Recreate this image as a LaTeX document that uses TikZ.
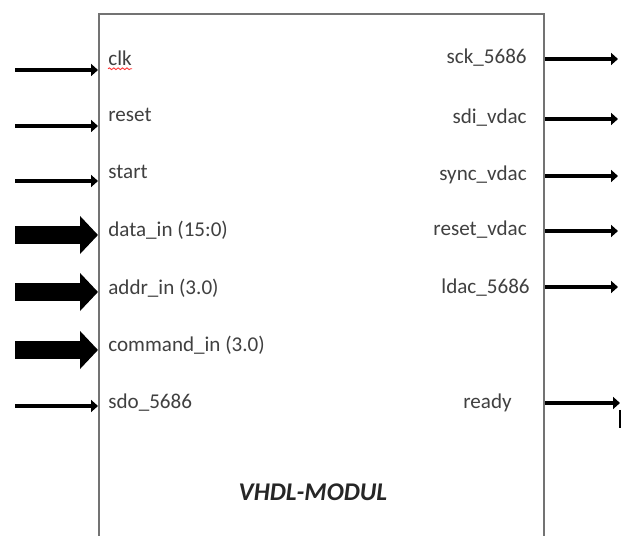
\documentclass[tikz,border=0pt]{standalone}
\usepackage{fontspec}
\setmainfont{Carlito}
\usetikzlibrary{positioning,calc,arrows.meta,decorations.pathmorphing}

\begin{document}
\begin{tikzpicture}[x=0.02cm, y=-0.02cm]
\tikzset{
  sig/.style={line width=2.2pt, -{Triangle[length=0.14cm, width=0.24cm]}},
  bus/.style={line width=0.36cm, -{Triangle[length=0.36cm, width=0.74cm]}},
  port/.style={font=\fontsize{12}{14}\selectfont, text=black!75, inner sep=0pt}
}
\clip (0,0) rectangle (622,536);
\fill[white] (0,0) rectangle (622,536);
\node[draw=black!55, line width=1.2pt, minimum width=8.9cm, minimum height=11cm, anchor=north west] (mod) at (98,13) {};
% inputs
\node[port, anchor=west] (lclk) at (108,58) {clk};
\node[port, anchor=west] (lrst) at (108,115) {reset};
\node[port, anchor=west] (lstart) at (108,172) {start};
\node[port, anchor=west] (ldata) at (108,230) {data\_in (15:0)};
\node[port, anchor=west] (laddr) at (108,288) {addr\_in (3.0)};
\node[port, anchor=west] (lcmd) at (108,345) {command\_in (3.0)};
\node[port, anchor=west] (lsdo) at (108,403) {sdo\_5686};
\draw[red!80, line width=0.5pt, decorate, decoration={snake, amplitude=0.5pt, segment length=2.5pt}]
  ($(lclk.south west)+(0,3)$) -- ($(lclk.south east)+(0,3)$);
\coordinate (iclk) at (15,70);
\coordinate (irst) at (15,126);
\coordinate (istart) at (15,181);
\coordinate (idata) at (15,235);
\coordinate (iaddr) at (15,292);
\coordinate (icmd) at (15,350);
\coordinate (isdo) at (15,406);
\draw[sig] (iclk) -- (iclk -| mod.west);
\draw[sig] (irst) -- (irst -| mod.west);
\draw[sig] (istart) -- (istart -| mod.west);
\draw[bus] (idata) -- (idata -| mod.west);
\draw[bus] (iaddr) -- (iaddr -| mod.west);
\draw[bus] (icmd) -- (icmd -| mod.west);
\draw[sig, line width=1.9pt] (isdo) -- (isdo -| mod.west);
% outputs
\node[port, anchor=east] (rsck) at (527,58) {sck\_5686};
\node[port, anchor=east] (rsdi) at (527,118) {sdi\_vdac};
\node[port, anchor=east] (rsync) at (527,175) {sync\_vdac};
\node[port, anchor=east] (rrst) at (527,230) {reset\_vdac};
\node[port, anchor=east] (rldac) at (530,288) {ldac\_5686};
\node[port, anchor=east] (rrdy) at (512,403) {ready};
\coordinate (osck) at (618,59);
\coordinate (osdi) at (618,119);
\coordinate (osync) at (618,176);
\coordinate (orst) at (618,231);
\coordinate (oldac) at (618,287);
\coordinate (ordy) at (620,403);
\draw[sig] (osck -| mod.east) -- (osck);
\draw[sig] (osdi -| mod.east) -- (osdi);
\draw[sig] (osync -| mod.east) -- (osync);
\draw[sig] (orst -| mod.east) -- (orst);
\draw[sig] (oldac -| mod.east) -- (oldac);
\draw[sig] (ordy -| mod.east) -- (ordy);
\draw[line width=1pt] (620,410) -- (620,428);
\node[font=\fontsize{14.5}{16}\selectfont\bfseries\itshape, text=black!85] (title) at (313,492) {VHDL-MODUL};
\end{tikzpicture}
\end{document}
